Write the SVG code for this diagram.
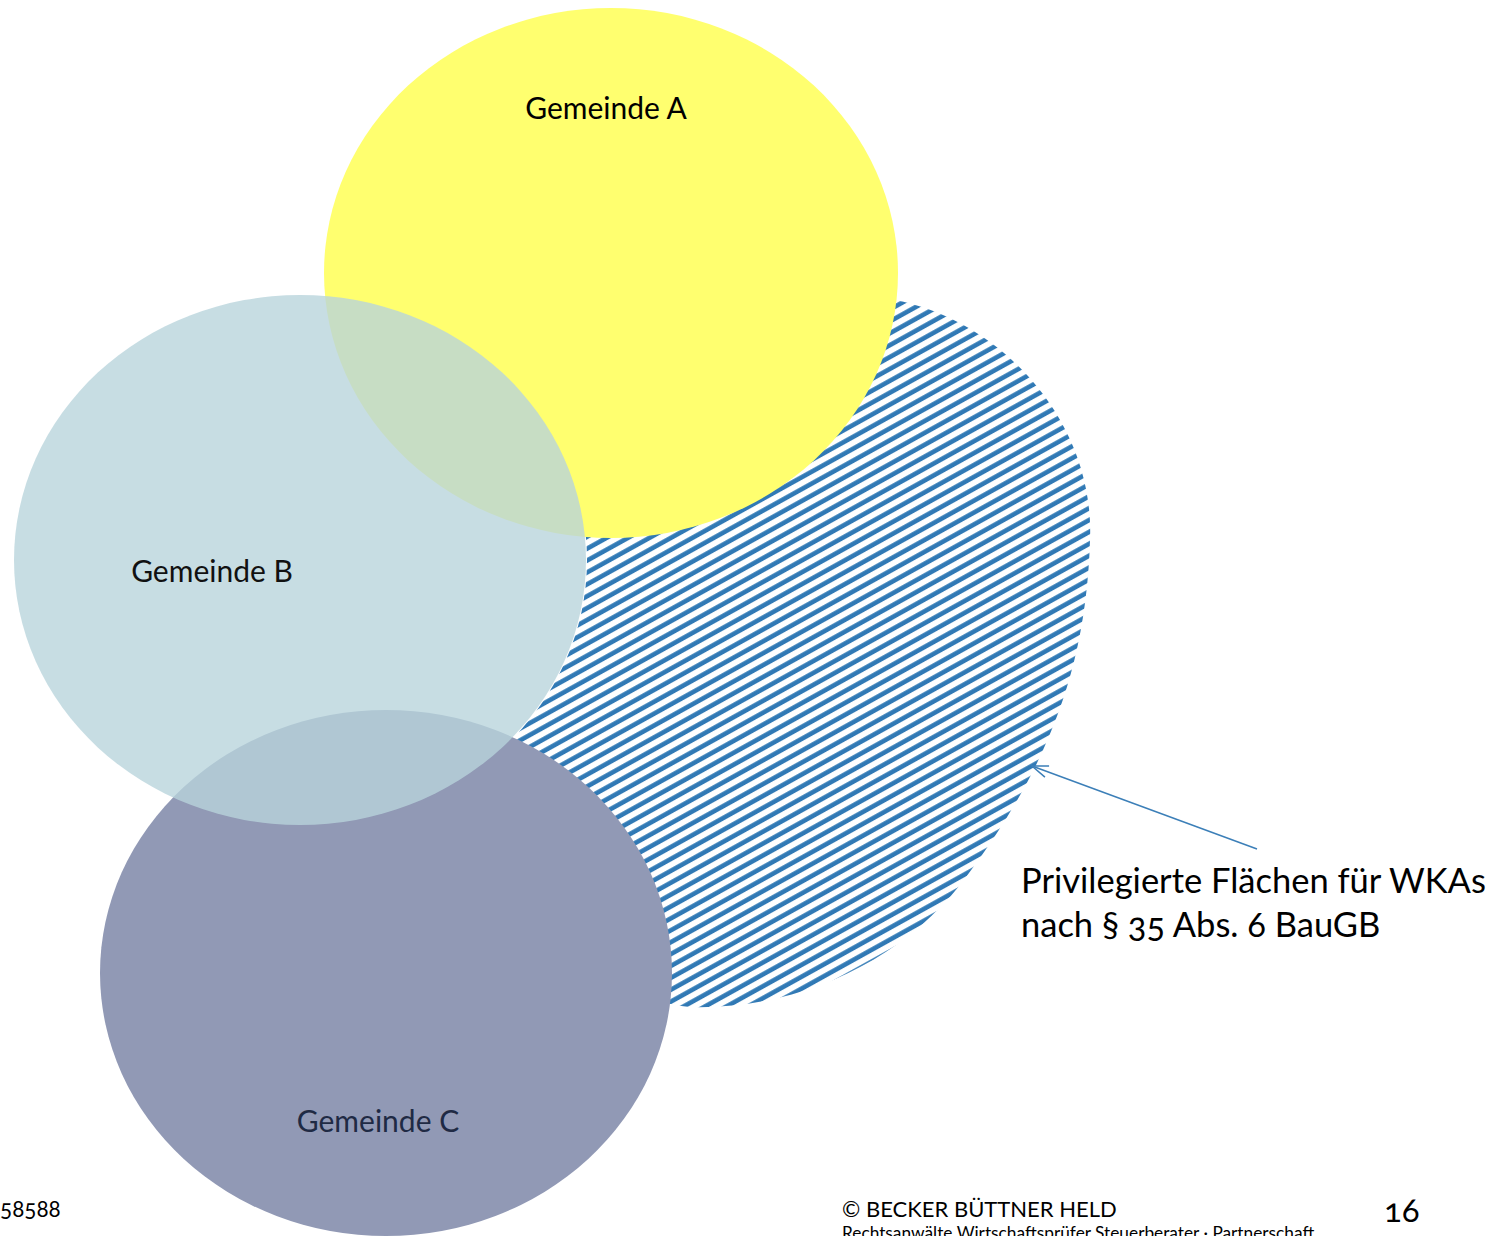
<svg xmlns="http://www.w3.org/2000/svg" width="1505" height="1236" viewBox="0 0 1505 1236">
<style>
text{font-family:Lato,"Open Sans","Liberation Sans",sans-serif;font-feature-settings:"onum";}
.lbl{font-size:30px;fill:#000;}
.big{font-size:34.5px;fill:#000;}
</style>
<defs>
<pattern id="hatch" patternUnits="userSpaceOnUse" width="10.4" height="10.4" patternTransform="rotate(-29)">
<rect x="0" y="0" width="10.4" height="10.4" fill="#fff"/>
<rect x="0" y="3" width="10.4" height="4.6" fill="#3079B5"/>
</pattern>
<mask id="notB" maskUnits="userSpaceOnUse" x="0" y="0" width="1505" height="1236">
<rect width="1505" height="1236" fill="#fff"/>
<ellipse cx="300" cy="560" rx="287" ry="266" fill="#000"/>
</mask>
<marker id="open" markerWidth="20" markerHeight="20" refX="17" refY="7" orient="auto" markerUnits="userSpaceOnUse">
<path d="M 1,1 L 17,7 L 1,13" fill="none" stroke="#3C7FB8" stroke-width="1.5"/>
</marker>
</defs>
<rect width="1505" height="1236" fill="#fff"/>
<g id="flaechen">
<path d="M 895,300 C 1000,320 1095,420 1090,540 C 1086,680 1040,780 960,885 C 900,960 800,1010 690,1007 C 600,1000 560,900 520,760 C 500,650 560,540 640,460 C 720,380 830,295 895,300 Z" fill="url(#hatch)" mask="url(#notB)"/>
</g>
<g id="gemeinde-a">
<ellipse cx="611" cy="273" rx="287" ry="265" fill="#FFFF6F"/>
<text class="lbl" x="606" y="119" text-anchor="middle">Gemeinde A</text>
</g>
<g id="gemeinde-c">
<ellipse cx="386" cy="973" rx="286" ry="263" fill="#9199B5"/>
<text class="lbl" x="378" y="1132" text-anchor="middle" style="fill:#1F2A44">Gemeinde C</text>
</g>
<g id="gemeinde-b">
<ellipse cx="300" cy="560" rx="286" ry="265" fill="rgb(184,212,219)" fill-opacity="0.79"/>
<text class="lbl" x="212" y="582" text-anchor="middle" style="fill:#111">Gemeinde B</text>
</g>
<g id="connectors">
<line x1="1257" y1="849" x2="1032" y2="766" stroke="#3C7FB8" stroke-width="1.5" marker-end="url(#open)"/>
</g>
<g id="label">
<text class="big" x="1021" y="893">Privilegierte Flächen für WKAs</text>
<text class="big" x="1021" y="937">nach § 35 Abs. 6 BauGB</text>
</g>
<g id="footer">
<text x="0" y="1217" font-size="22.5" fill="#000">58588</text>
<text x="842" y="1217" font-size="22" fill="#000">© BECKER BÜTTNER HELD</text>
<text x="842" y="1239" font-size="17.3" fill="#000">Rechtsanwälte Wirtschaftsprüfer Steuerberater · Partnerschaft</text>
<text x="1384" y="1222" font-size="33" fill="#000">16</text>
</g>
</svg>
